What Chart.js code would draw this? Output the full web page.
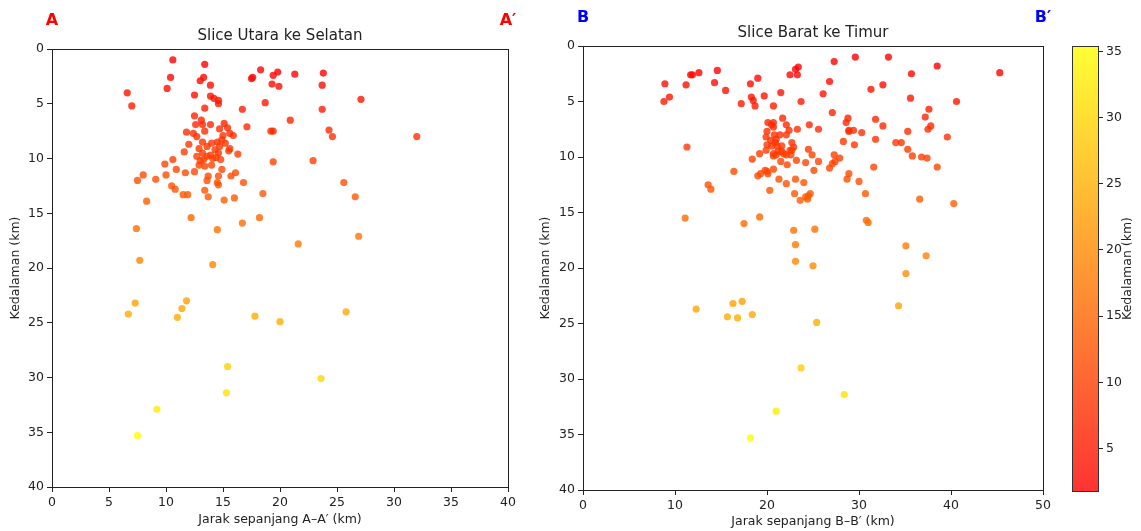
<!DOCTYPE html>
<html>
<head>
<meta charset="utf-8">
<script src="https://cdn.jsdelivr.net/npm/chart.js@4/dist/chart.umd.min.js"></script>
<style>
  html, body { margin: 0; padding: 0; background: #fff; }
  #wrap { position: relative; width: 1141px; height: 531px; overflow: hidden; }
  canvas { position: absolute; top: 0; }
  #sliceA { left: 0; }
  #sliceB { left: 530px; }
  #cbar { left: 1060px; }
</style>
</head>
<body>
<div id="wrap">
  <canvas id="sliceA" width="530" height="531"></canvas>
  <canvas id="sliceB" width="530" height="531"></canvas>
  <canvas id="cbar" width="81" height="531"></canvas>
</div>
<script>
// --- data (distance km, depth km) ---
const distA = [
  10.6, 13.4, 10.4, 13.3, 13.0, 13.9, 10.1, 6.6, 7.0, 12.5, 13.9, 14.2, 14.6, 14.6, 13.4, 12.5,
  17.5, 17.6, 18.3, 19.4, 19.8, 19.3, 19.9, 21.3, 23.8, 23.7, 23.7, 27.1, 18.7, 16.7, 20.9, 17.1,
  19.2, 19.4, 24.3, 24.6, 32.0, 22.9, 19.4, 25.6, 26.6,
  13.1, 12.6, 13.2, 13.9, 15.1, 15.4, 14.7, 13.4, 11.8, 12.4, 12.7, 15.0, 15.6, 15.9, 14.9, 13.2,
  12.0, 14.0, 14.5, 14.7, 13.6, 12.9, 11.6, 15.6, 15.5, 14.3, 14.6, 13.2, 12.7, 13.6, 13.9, 14.1,
  13.3, 16.3, 14.8, 12.9, 13.4, 14.0, 10.6, 9.9, 10.9, 10.0, 11.7, 12.5, 14.9, 16.1, 15.7, 13.7,
  14.6, 13.6, 14.5, 14.6, 16.8, 8.0, 9.1, 10.5, 10.8, 13.4, 11.5, 11.9, 13.7, 15.1, 16.0, 18.5,
  8.3, 12.2, 18.2, 7.5, 7.4, 14.5, 16.7, 26.9, 21.6, 7.7, 14.1, 7.3, 6.7, 11.8, 11.4, 11.0,
  17.8, 20.0, 25.8, 15.4, 23.6, 15.3, 9.2, 7.5, 14.4, 13.0, 15.2
];
const depthA = [
  1.0, 1.4, 2.6, 2.6, 2.9, 3.3, 3.6, 4.0, 5.2, 4.2, 4.3, 4.5, 4.7, 5.0, 5.4, 6.1,
  2.7, 2.6, 1.9, 2.4, 2.1, 3.2, 3.4, 2.3, 2.2, 3.3, 5.5, 4.6, 4.9, 5.5, 6.5, 7.1,
  7.5, 7.5, 7.4, 8.0, 8.0, 10.2, 10.3, 12.2, 13.5,
  6.5, 6.9, 6.9, 6.9, 6.8, 7.2, 7.3, 7.5, 7.6, 7.7, 8.0, 7.9, 7.7, 7.9, 8.3, 8.5,
  8.7, 8.6, 8.5, 8.9, 8.9, 9.1, 9.4, 9.1, 9.3, 9.2, 9.5, 9.5, 9.8, 9.8, 9.7, 10.0,
  10.1, 9.6, 10.1, 10.6, 10.7, 10.6, 10.1, 10.5, 11.0, 11.5, 11.3, 11.2, 11.0, 11.3, 11.6, 11.6,
  11.6, 12.0, 12.2, 12.4, 12.2, 11.5, 11.9, 12.5, 12.8, 12.9, 13.3, 13.3, 13.5, 13.8, 13.6, 13.2,
  13.9, 15.4, 15.4, 12.0, 16.4, 16.5, 15.9, 17.1, 17.8, 19.3, 19.7, 23.2, 24.2, 23.0, 23.7, 24.5,
  24.4, 24.9, 24.0, 29.0, 30.1, 31.4, 32.9, 35.3, 9.9, 10.2, 8.6
];

const distB = [
  8.9, 8.8, 9.4, 11.2, 11.7, 11.9, 12.6, 14.3, 14.6, 15.5, 11.3, 17.2, 18.2, 18.3, 18.5, 18.7,
  19.0, 19.7, 20.7, 21.5, 22.5, 23.1, 23.4, 23.3, 23.7, 26.1, 26.8, 27.3, 27.1, 29.6, 33.2, 31.3,
  32.6, 35.7, 38.5, 45.3, 35.6, 40.6, 37.6, 37.2, 37.8, 37.5, 39.6, 35.3, 28.8, 28.6, 31.8, 32.6,
  28.9, 29.4, 28.9, 30.3, 28.3, 29.5, 31.8, 34.0, 34.6, 35.3, 35.8, 36.8, 37.4, 38.5, 31.6, 27.3,
  27.9, 27.4, 27.1, 26.8, 21.7, 20.1, 20.7, 22.1, 22.4, 20.7, 20.0, 23.3, 24.6, 25.6, 20.8, 21.4,
  22.1, 19.9, 20.4, 21.0, 20.9, 22.7, 20.0, 20.5, 21.1, 21.6, 22.9, 22.5, 22.7, 21.2, 21.6, 21.8,
  20.7, 21.0, 20.7, 19.9, 19.2, 18.4, 22.1, 22.6, 21.5, 22.2, 23.2, 24.5, 24.9, 24.2, 25.6, 25.1,
  20.7, 20.0, 19.3, 19.0, 20.1, 16.4, 21.3, 22.1, 23.1, 24.0, 20.3, 23.0, 23.6, 24.2, 24.5, 24.7,
  24.4, 28.9, 28.7, 30.0, 30.7, 19.2, 30.8, 13.6, 13.9, 11.1, 36.6, 40.3, 17.5, 22.9, 25.2, 23.1,
  31.0, 35.1, 37.3, 23.1, 25.0, 35.1, 12.3, 16.3, 17.3, 15.7, 16.8, 18.4, 25.4, 34.3, 23.7, 28.4,
  21.0, 18.2, 19.8, 20.5
];
const depthB = [
  3.4, 5.0, 4.6, 3.5, 2.6, 2.6, 2.4, 3.3, 2.2, 4.0, 9.1, 5.2, 3.4, 4.6, 4.9, 5.4,
  2.9, 4.5, 5.4, 4.2, 2.6, 2.1, 1.9, 2.6, 5.0, 4.3, 3.2, 1.4, 6.0, 1.0, 1.0, 3.9,
  3.5, 2.5, 1.8, 2.4, 4.7, 5.0, 5.7, 6.4, 7.2, 7.5, 8.2, 7.7, 6.5, 6.9, 6.6, 7.2,
  7.6, 7.6, 7.7, 7.8, 8.6, 8.9, 8.4, 8.7, 8.7, 9.3, 9.9, 10.0, 10.1, 10.9, 10.9, 9.8,
  10.1, 10.4, 10.6, 11.0, 6.5, 6.9, 6.9, 7.1, 7.6, 7.3, 7.7, 7.5, 7.1, 7.5, 8.0, 8.0,
  8.0, 8.2, 8.5, 8.4, 8.7, 8.7, 8.9, 9.0, 9.0, 9.0, 9.1, 9.4, 9.4, 9.5, 9.5, 9.7,
  9.7, 9.8, 9.9, 9.4, 9.7, 10.2, 9.8, 9.8, 10.4, 10.7, 10.3, 9.3, 9.8, 10.5, 10.4, 11.2,
  11.1, 11.3, 11.5, 11.7, 11.5, 11.3, 12.0, 12.4, 12.0, 12.3, 13.0, 13.3, 13.9, 13.6, 13.5, 13.3,
  13.8, 11.5, 12.0, 12.2, 13.3, 15.4, 15.7, 12.5, 12.9, 15.5, 13.8, 14.2, 16.0, 16.6, 16.5, 17.9,
  15.9, 18.0, 18.9, 19.4, 19.8, 20.5, 23.7, 23.2, 23.0, 24.4, 24.5, 24.2, 24.9, 23.4, 29.0, 31.4,
  32.9, 35.3, 11.2, 7.1
];

const ticksA_x = [0, 5, 10, 15, 20, 25, 30, 35, 40];
const ticksB_x = [0, 10, 20, 30, 40, 50];
const ticksDepth = [0, 5, 10, 15, 20, 25, 30, 35, 40];
const cbTicks = [5, 10, 15, 20, 25, 30, 35];
const cbRange = [1.8, 35.4];

Chart.defaults.font.family = "'DejaVu Sans', sans-serif";
Chart.defaults.font.size = 12.5;
Chart.defaults.color = '#222';

// autumn colormap, alpha 0.8
function autumn(v) {
    let t = (v - cbRange[0]) / (cbRange[1] - cbRange[0]);
    t = Math.max(0, Math.min(1, t));
    return `rgba(255, ${Math.round(255 * t)}, 0, 0.8)`;
}

// all four spines, like matplotlib
const framePlugin = {
    id: 'frame',
    afterDraw(chart, args, opts) {
        const { ctx, chartArea: a } = chart;
        ctx.save();
        ctx.strokeStyle = opts.color || '#222';
        ctx.lineWidth = 1;
        ctx.strokeRect(Math.round(a.left) + 0.5, Math.round(a.top) + 0.5,
            Math.round(a.right - a.left), Math.round(a.bottom - a.top));
        ctx.restore();
    }
};

const sliceLabels = {
    id: 'sliceLabels',
    afterDraw(chart, args, opts) {
        const { ctx, chartArea: a } = chart;
        ctx.save();
        ctx.textAlign = 'center';
        ctx.textBaseline = 'middle';
        ctx.fillStyle = '#222';
        ctx.font = "15px 'DejaVu Sans', sans-serif";
        ctx.fillText(opts.title, (a.left + a.right) / 2, a.top - 12.5);
        ctx.fillStyle = opts.color;
        ctx.font = "bold 16px 'DejaVu Sans', sans-serif";
        ctx.fillText(opts.start, a.left, a.top - 28);
        ctx.fillText(opts.end, a.right, a.top - 28);
        ctx.restore();
    }
};

function makeTicks(list) {
    return (scale) => { scale.ticks = list.map(v => ({ value: v })); };
}

function axisCommon(extra) {
    return Object.assign({
        type: 'linear',
        grid: { display: true, drawOnChartArea: false, drawTicks: true, tickLength: 5, color: '#222' },
        border: { display: false },
        ticks: { padding: 3, color: '#222', font: { size: 12.5 } }
    }, extra);
}

function sliceChart(id, dist, depth, opt) {
    const ctx = document.getElementById(id).getContext('2d');
    const pts = dist.map((d, i) => ({ x: d, y: depth[i] }));
    return new Chart(ctx, {
        type: 'scatter',
        data: {
            datasets: [{
                data: pts,
                pointBackgroundColor: depth.map(autumn),
                pointBorderWidth: 0,
                pointRadius: 3.6,
                pointHoverRadius: 3.6
            }]
        },
        options: {
            responsive: false,
            animation: false,
            events: [],
            layout: { padding: opt.padding },
            plugins: {
                legend: { display: false },
                tooltip: { enabled: false },
                frame: { color: '#222' },
                sliceLabels: opt.labels
            },
            scales: {
                x: axisCommon({
                    min: 0, max: opt.xMax,
                    afterBuildTicks: makeTicks(opt.xTicks),
                    afterFit: (s) => { s.height = opt.xAxisH; },
                    title: { display: true, text: opt.xTitle, color: '#222',
                        font: { size: 12.5 }, padding: { top: 4, bottom: opt.xTitlePad } }
                }),
                y: axisCommon({
                    min: 0, max: 40, reverse: true,
                    afterBuildTicks: makeTicks(ticksDepth),
                    afterFit: (s) => { s.width = opt.yAxisW; },
                    title: { display: true, text: 'Kedalaman (km)', color: '#222',
                        font: { size: 12.5 }, padding: { top: 8, bottom: 4 } }
                })
            }
        },
        plugins: [framePlugin, sliceLabels]
    });
}

sliceChart('sliceA', distA, depthA, {
    padding: { top: 49, right: 22, left: 0, bottom: 0 },
    xMax: 40, xTicks: ticksA_x, xAxisH: 44, yAxisW: 52, xTitlePad: 4,
    xTitle: 'Jarak sepanjang A–A′ (km)',
    labels: { title: 'Slice Utara ke Selatan', start: 'A', end: 'A′', color: '#ff0000' }
});

sliceChart('sliceB', distB, depthB, {
    padding: { top: 46, right: 17, left: 0, bottom: 0 },
    xMax: 50, xTicks: ticksB_x, xAxisH: 41, yAxisW: 53, xTitlePad: 2,
    xTitle: 'Jarak sepanjang B–B′ (km)',
    labels: { title: 'Slice Barat ke Timur', start: 'B', end: 'B′', color: '#0000ff' }
});

// colorbar
const cbLabel = {
    id: 'cbLabel',
    afterDraw(chart) {
        const { ctx, chartArea: a } = chart;
        ctx.save();
        ctx.translate(68, (a.top + a.bottom) / 2);
        ctx.rotate(-Math.PI / 2);
        ctx.textAlign = 'center';
        ctx.textBaseline = 'middle';
        ctx.fillStyle = '#222';
        ctx.font = "12.5px 'DejaVu Sans', sans-serif";
        ctx.fillText('Kedalaman (km)', 0, 0);
        ctx.restore();
    }
};

new Chart(document.getElementById('cbar').getContext('2d'), {
    type: 'bar',
    data: {
        labels: [''],
        datasets: [{
            data: [cbRange],
            barPercentage: 1,
            categoryPercentage: 1,
            borderWidth: 0,
            backgroundColor: (c) => {
                const { chart } = c;
                const a = chart.chartArea;
                if (!a) return null;
                const g = chart.ctx.createLinearGradient(0, a.bottom, 0, a.top);
                g.addColorStop(0, 'rgba(255, 0, 0, 0.8)');
                g.addColorStop(1, 'rgba(255, 255, 0, 0.8)');
                return g;
            }
        }]
    },
    options: {
        responsive: false,
        animation: false,
        events: [],
        layout: { padding: { left: 12, top: 46, bottom: 40, right: 0 } },
        plugins: {
            legend: { display: false },
            tooltip: { enabled: false },
            frame: { color: '#333' }
        },
        scales: {
            x: { type: 'category', display: false, offset: true },
            y: {
                type: 'linear', position: 'right',
                min: cbRange[0], max: cbRange[1],
                afterBuildTicks: makeTicks(cbTicks),
                afterFit: (s) => { s.width = 43; },
                grid: { display: true, drawOnChartArea: false, drawTicks: true, tickLength: 5, color: '#222' },
                border: { display: false },
                ticks: { padding: 3, color: '#222', font: { size: 12.5 } }
            }
        }
    },
    plugins: [framePlugin, cbLabel]
});
</script>
</body>
</html>
